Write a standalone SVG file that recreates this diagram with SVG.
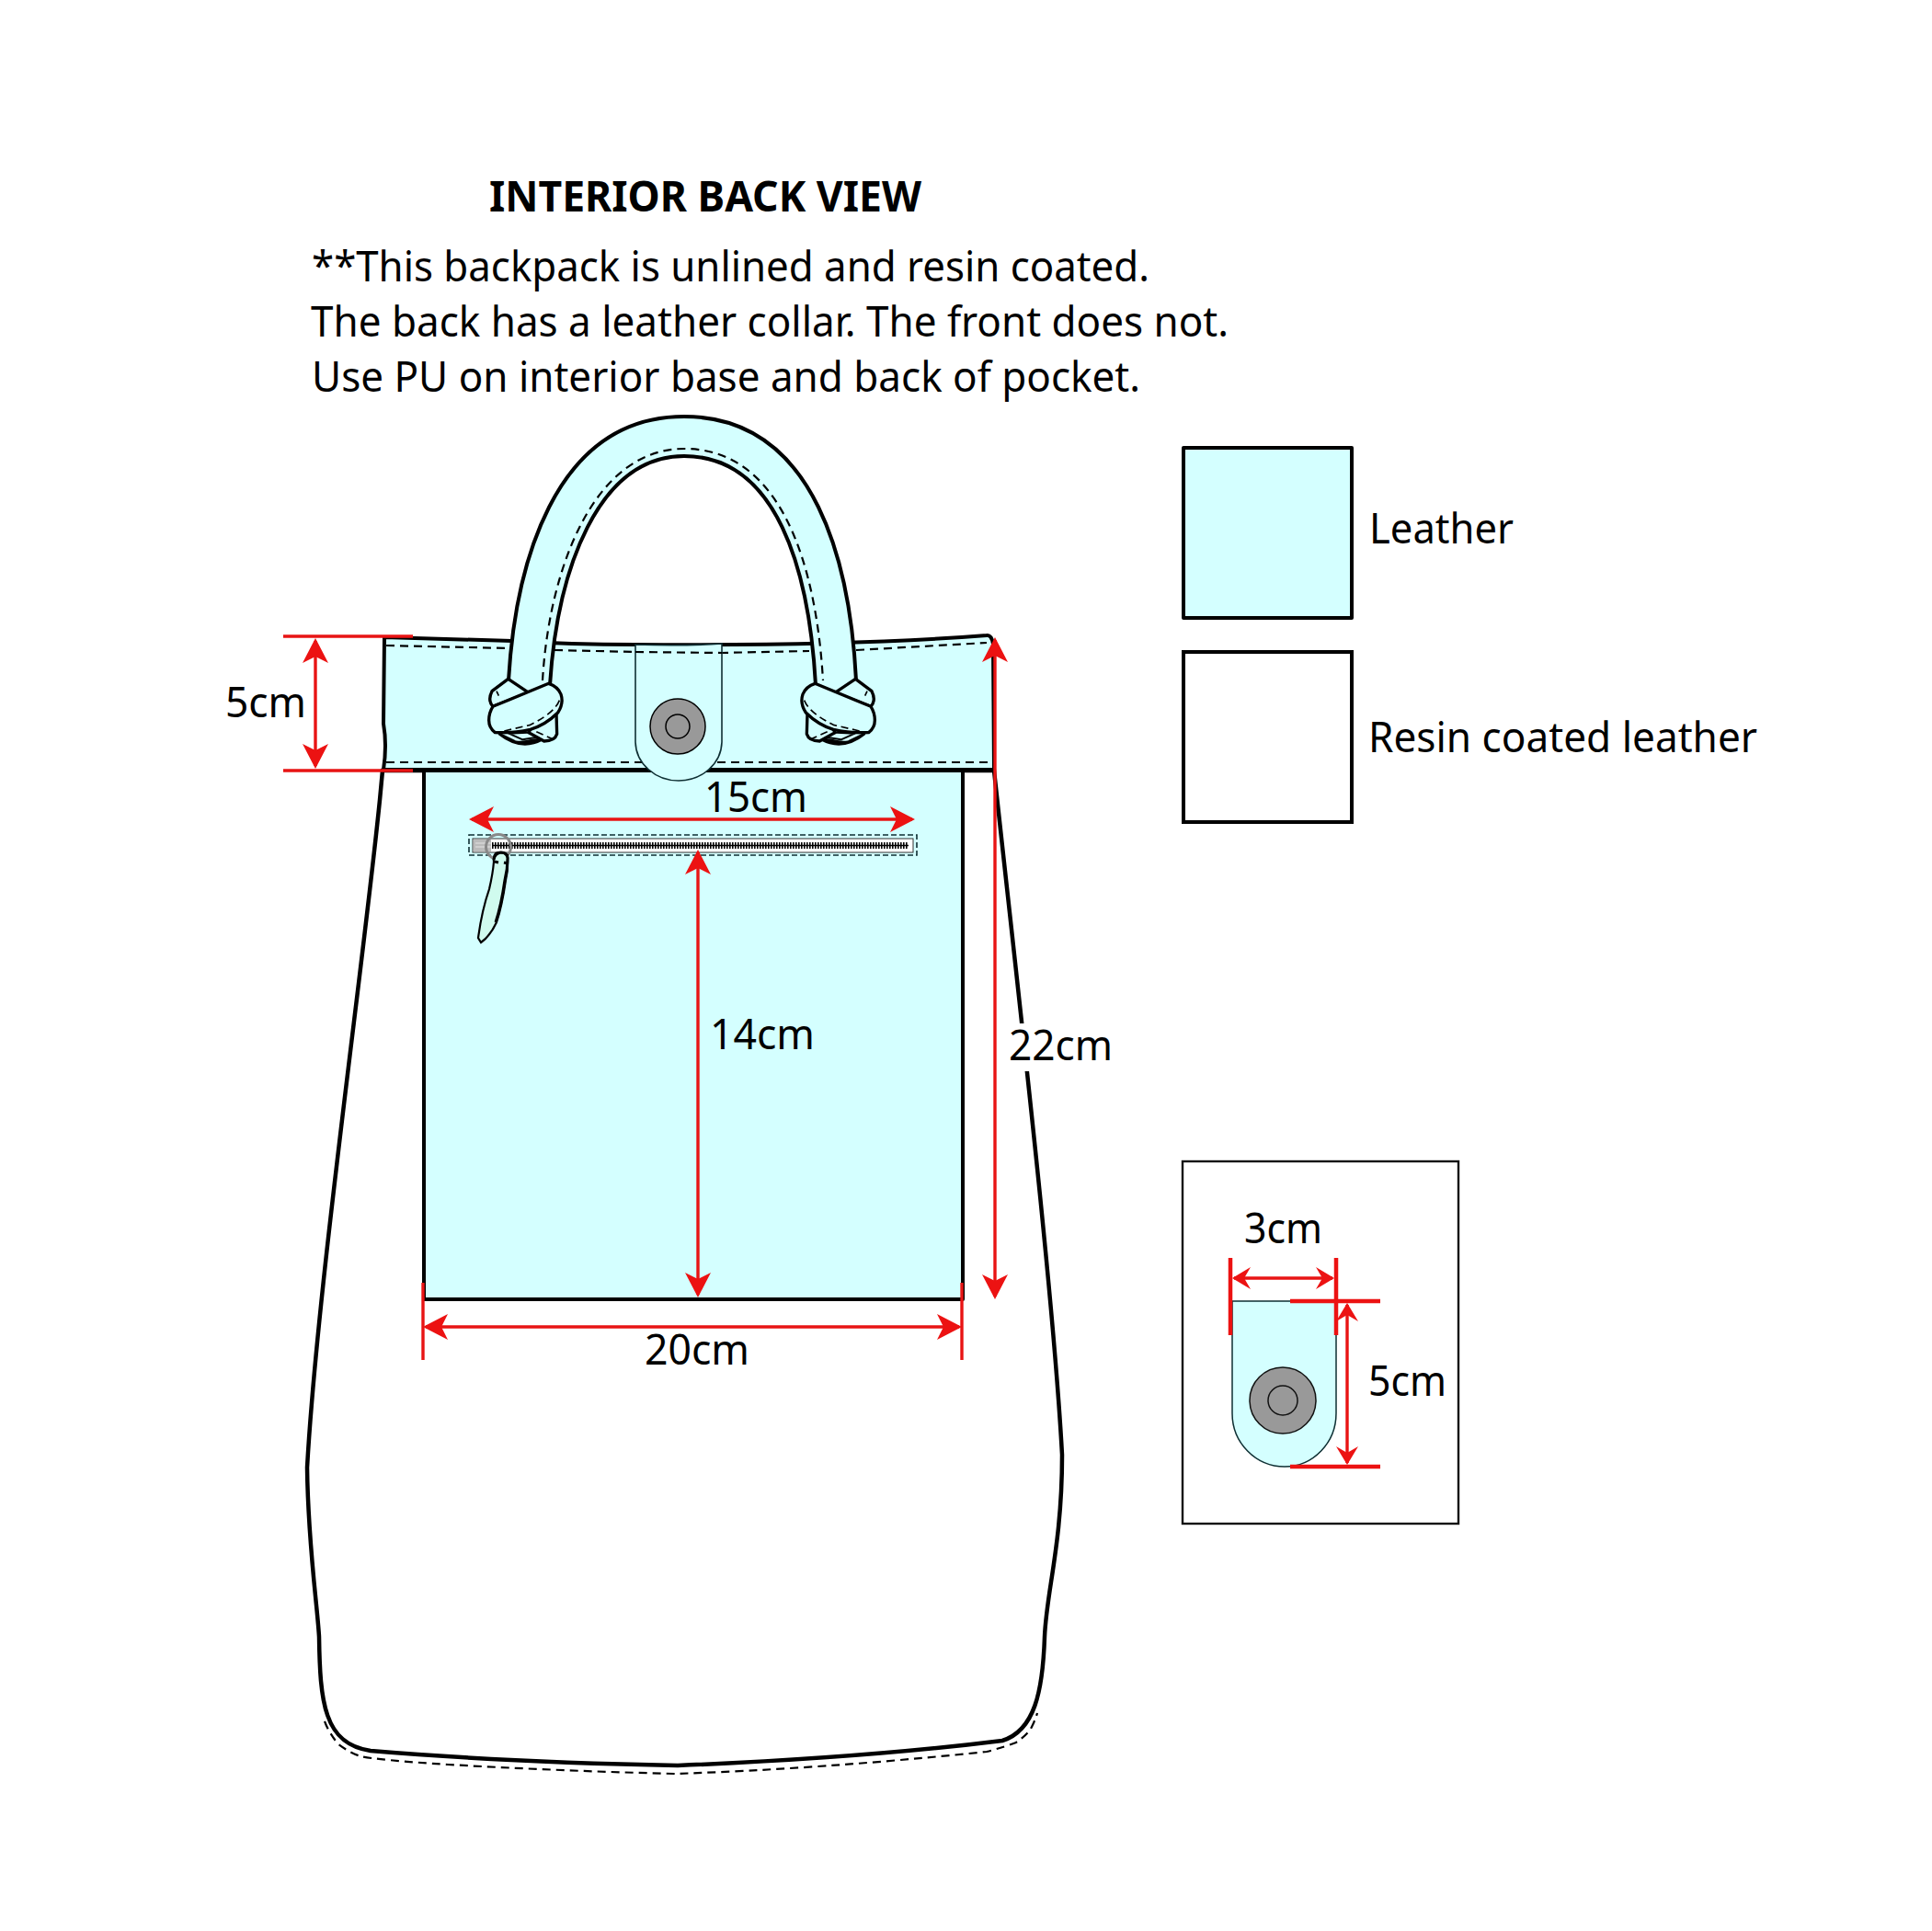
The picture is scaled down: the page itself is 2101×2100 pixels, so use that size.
<svg xmlns="http://www.w3.org/2000/svg" xmlns:xlink="http://www.w3.org/1999/xlink" width="2101" height="2100" viewBox="0 0 2101 2100">
<style>
text{font-family:"Noto Sans","Open Sans","Liberation Sans",sans-serif;fill:#000;font-size:45px}
.title{font-weight:700;font-size:46px}
.leather{fill:#d4ffff;stroke:#000;stroke-width:4;stroke-linejoin:round}
.dash{fill:none;stroke:#000;stroke-width:2.2;stroke-dasharray:9 6}
.thin{stroke:#0e2f33;stroke-width:1.6}
.red{fill:none;stroke:#e81414;stroke-width:3.4}
.redb{fill:none;stroke:#ec1212;stroke-width:4.5}
.arr{marker-start:url(#ah);marker-end:url(#ah)}
.arrs{marker-start:url(#as);marker-end:url(#as)}
</style>
<defs>
<marker id="ah" markerUnits="userSpaceOnUse" markerWidth="34" markerHeight="34" viewBox="-30 -17 34 34" refX="-3" refY="0" orient="auto-start-reverse"><path d="M0 0L-27-14L-20 0L-27 14Z" fill="#ec1212"/></marker>
<marker id="as" markerUnits="userSpaceOnUse" markerWidth="28" markerHeight="28" viewBox="-24 -14 28 28" refX="-2" refY="0" orient="auto-start-reverse"><path d="M0 0L-20-12L-13 0L-20 12Z" fill="#ec1212"/></marker>
<g id="knot">
<g transform="translate(510 700) scale(.3333)" fill="#d4ffff" stroke="#000" stroke-width="10" stroke-linejoin="round">
<path d="M100 295Q170 350 240 312L210 315Q175 325 150 320L110 300Z" fill="#8a8a8a" stroke-width="9"/>
<path d="M130 293L175 313L222 305L190 290Z" stroke-width="6"/>
<path d="M285 225L287 295Q280 318 245 318L195 290L200 280Z"/>
<path d="M128 115L75 155Q60 185 78 205L195 160Z"/>
<path d="M78 205L260 130Q290 140 300 165Q310 195 290 225Q250 265 200 280Q150 292 85 290Q65 275 65 250Q65 225 78 205Z"/>
<path d="M90 155L97 170M295 185Q280 225 200 265L115 285M220 287L275 312" fill="none" stroke-width="5" stroke-dasharray="24 14"/>
</g>
</g>
</defs>

<g id="heading">
<text class="title" x="532" y="230" textLength="470" lengthAdjust="spacingAndGlyphs">INTERIOR BACK VIEW</text>
<text x="339" y="306" textLength="911" lengthAdjust="spacingAndGlyphs">**This backpack is unlined and resin coated.</text>
<text x="338" y="366" textLength="998" lengthAdjust="spacingAndGlyphs">The back has a leather collar. The front does not.</text>
<text x="339" y="426" textLength="901" lengthAdjust="spacingAndGlyphs">Use PU on interior base and back of pocket.</text>
</g>

<g id="bag-body">
<path d="M416 838L413 870C395 1050 345 1400 334 1596C335 1680 345 1745 347 1780C348 1850 352 1897 403 1904C520 1914 640 1918 737 1920C860 1915 970 1908 1090 1893C1125 1882 1134 1840 1136 1780C1138 1730 1155 1680 1155 1582C1145 1400 1105 1060 1081 838Z" fill="#fff" stroke="#000" stroke-width="4.5"/>
<path d="M353 1872Q358 1885 368 1897Q380 1906 392 1910Q410 1914 487 1919Q610 1926 734 1929Q890 1924 1073 1905Q1092 1900 1105 1895Q1118 1886 1122 1878Q1126 1870 1128 1863" class="dash"/>
</g>

<g id="pocket">
<rect x="461" y="838" width="586" height="575" class="leather"/>
</g>

<g id="collar">
<path d="M418 693L557 697C620 701 660 701 691 701C820 702 960 700 1073 691Q1078 690 1080 700L1081 837L417 837Q421 810 417 787Z" class="leather"/>
<path d="M420 702L555 705M603 707L692 709L784 710L880 708M931 707L1073 699" class="dash"/>
<path d="M420 829L1080 829" class="dash"/>
</g>

<g id="handle">
<path d="M553 745C560 620 600 453 744 453C890 453 925 620 932 745L887 745C880 620 845 496 744 496C650 496 606 620 598 745Z" fill="#d4ffff"/>
<path d="M553 740C560 620 600 453 744 453C890 453 925 620 931 740M887 745C880 620 845 496 744 496C650 496 606 620 598 745" fill="none" stroke="#000" stroke-width="4"/>
<path d="M590 740C597 620 645 488 744 488C852 488 888 620 895 740" class="dash"/>
<use xlink:href="#knot" href="#knot"/>
<use xlink:href="#knot" href="#knot" transform="translate(1483 0) scale(-1 1)"/>
</g>

<g id="flap">
<path d="M691 701Q740 703 785 700L785 807A47 43 0 0 1 738 849A47 43 0 0 1 691 807Z" fill="#d4ffff" class="thin"/>
<path d="M691 709L785 710" class="dash"/>
<circle cx="737" cy="790" r="30" fill="#999" stroke="#000" stroke-width="1.5"/>
<circle cx="737" cy="790" r="13" fill="none" stroke="#000" stroke-width="1.5"/>
</g>

<g id="zipper">
<rect x="510" y="908" width="487" height="22" fill="none" stroke="#0e2f33" stroke-width="1.6" stroke-dasharray="6 3"/>
<rect x="514" y="912" width="479" height="15" fill="#fff" stroke="#333" stroke-width="1"/>
<path d="M535 919.5H988" fill="none" stroke="#000" stroke-width="7" stroke-dasharray="1.6 1.4"/>
<path d="M535 919.5H988" fill="none" stroke="#000" stroke-width="1.6"/>
<rect x="515" y="913" width="19" height="13" fill="#bbb"/>
<path d="M517 917H534M517 921H534" fill="none" stroke="#e4e4e4" stroke-width="1"/>
<circle cx="542" cy="921" r="13.5" fill="none" stroke="#888" stroke-width="3"/>
<path d="M539 928Q545 925 552 930Q553 945 550 957Q546 985 540 1003Q533 1018 523 1025L520 1020Q524 990 532 967Q536 950 537 937Q536 931 539 928Z" fill="#d0fbee" stroke="#000" stroke-width="2.2"/>
<path d="M537 935Q538 928 545 927Q551 927 552 933Q552 945 549 957Q545 985 539 1003M538 937L542 938M548 938L552 939" fill="none" stroke="#000" stroke-width="3"/>
</g>

<g id="dimensions">
<path d="M308 692H449M308 838H449" class="red"/>
<path d="M343 697V833" class="red arr"/>
<path d="M513 891H992" class="red arr"/>
<path d="M759 927V1408" class="red arr"/>
<path d="M1082 696V1410" class="red arr"/>
<path d="M463 1443H1043" class="red arr"/>
<path d="M460 1395V1479M1046 1395V1479" class="red"/>
<text x="245" y="780" textLength="88" lengthAdjust="spacingAndGlyphs">5cm</text>
<text x="766" y="883" textLength="112" lengthAdjust="spacingAndGlyphs">15cm</text>
<text x="772" y="1141" textLength="114" lengthAdjust="spacingAndGlyphs">14cm</text>
<rect x="1100" y="1113" width="30" height="52" fill="#fff"/>
<text x="1097" y="1153" textLength="113" lengthAdjust="spacingAndGlyphs">22cm</text>
<text x="701" y="1484" textLength="114" lengthAdjust="spacingAndGlyphs">20cm</text>
</g>

<g id="legend-leather">
<rect x="1287" y="487" width="183" height="185" class="leather"/>
<text x="1489" y="591" textLength="157" lengthAdjust="spacingAndGlyphs">Leather</text>
</g>
<g id="legend-resin">
<rect x="1287" y="709" width="183" height="185" fill="#fff" stroke="#000" stroke-width="4"/>
<text x="1488" y="818" textLength="423" lengthAdjust="spacingAndGlyphs">Resin coated leather</text>
</g>

<g id="detail">
<rect x="1286" y="1263" width="300" height="394" fill="#fff" stroke="#111" stroke-width="2.4"/>
<path d="M1340 1415H1453V1537A56 58 0 0 1 1397 1595A57 58 0 0 1 1340 1537Z" fill="#d4ffff" stroke="#0e2f33" stroke-width="1.5"/>
<circle cx="1395" cy="1523" r="36" fill="#999" stroke="#111" stroke-width="1.5"/>
<circle cx="1395" cy="1523" r="16" fill="none" stroke="#111" stroke-width="1.5"/>
<path d="M1338 1368V1452M1453 1368V1452M1403 1415H1501M1403 1595H1501" class="redb"/>
<path d="M1342 1390H1449" class="red arrs"/>
<path d="M1465 1419V1591" class="red arrs"/>
<text x="1353" y="1352" textLength="85" lengthAdjust="spacingAndGlyphs">3cm</text>
<text x="1488" y="1518" textLength="85" lengthAdjust="spacingAndGlyphs">5cm</text>
</g>
</svg>
